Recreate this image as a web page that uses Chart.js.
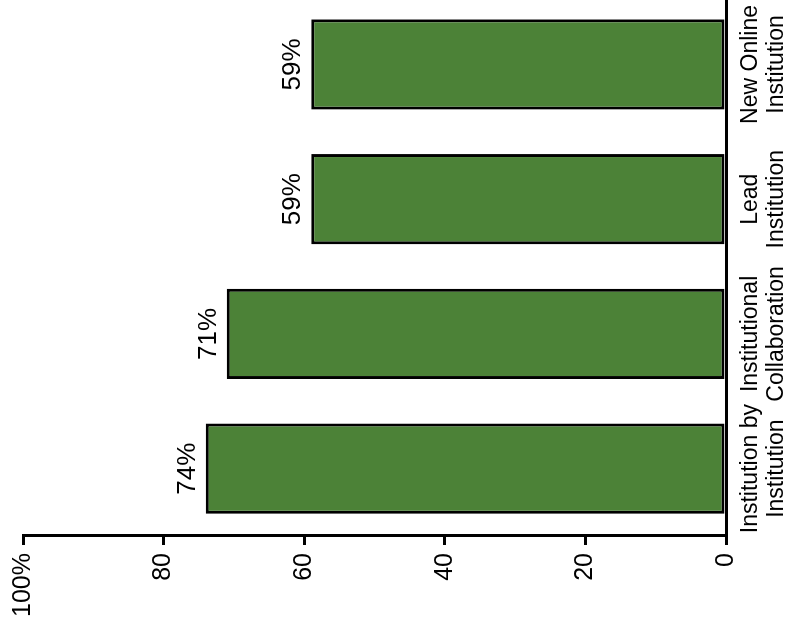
<!DOCTYPE html>
<html lang="en">
<head>
<meta charset="UTF-8">
<title>Institution types</title>
<script src="https://cdn.jsdelivr.net/npm/chart.js"></script>
<style>
  html, body { margin:0; padding:0; background:#fff; overflow:hidden; width:785px; height:626px; }
  /* chart is drawn upright, then the whole box is turned a quarter turn */
  #wrap { position:absolute; left:0; top:0; width:633px; height:785px;
          transform-origin:0 0; transform:translate(0,626px) rotate(-90deg); }
</style>
</head>
<body>
<div id="wrap"><canvas id="chart"></canvas></div>
<script>
const categories = [
  ['Institution by', 'Institution'],
  ['Institutional', 'Collaboration'],
  ['Lead', 'Institution'],
  ['New Online', 'Institution']
];
const values = [74, 71, 59, 59];
const valueLabels = ['74%', '71%', '59%', '59%'];
const tickLabels = ['0', '20', '40', '60', '80', '100%'];

Chart.defaults.font.family = "'Liberation Sans', Arial, sans-serif";
Chart.defaults.color = '#000';

const barLabels = {
  id: 'barLabels',
  afterDatasetsDraw(chart) {
    const ctx = chart.ctx;
    const meta = chart.getDatasetMeta(0);
    ctx.save();
    ctx.font = "26px 'Liberation Sans', Arial, sans-serif";
    ctx.fillStyle = '#000';
    ctx.textAlign = 'center';
    ctx.textBaseline = 'alphabetic';
    meta.data.forEach((bar, i) => {
      ctx.fillText(valueLabels[i], bar.x, bar.y - 11);
    });
    ctx.restore();
  }
};

new Chart(document.getElementById('chart'), {
  type: 'bar',
  data: {
    labels: categories,
    datasets: [{
      data: values,
      backgroundColor: '#4C8237',
      borderColor: '#000',
      borderWidth: 3,
      borderSkipped: false,
      categoryPercentage: 1,
      barPercentage: 0.67
    }]
  },
  options: {
    responsive: true,
    maintainAspectRatio: false,
    animation: false,
    layout: { padding: { top: 21, right: 0, bottom: 0, left: 0 } },
    plugins: { legend: { display: false }, tooltip: { enabled: false } },
    scales: {
      x: {
        grid: { display: true, drawOnChartArea: false, drawTicks: false },
        border: { display: true, color: '#000', width: 3 },
        ticks: { padding: 12, maxRotation: 0, minRotation: 0, autoSkip: false,
                 font: { size: 23, lineHeight: 1.13 } },
        afterFit: s => { s.height = 59; }
      },
      y: {
        min: 0, max: 100,
        grid: { display: true, drawOnChartArea: false, drawTicks: true,
                tickLength: 9, color: '#000', lineWidth: 3 },
        border: { display: true, color: '#000', width: 3 },
        ticks: { stepSize: 20, padding: 8, font: { size: 25 },
                 callback: (v, i) => tickLabels[i] },
        afterFit: s => { s.width = 90; }
      }
    }
  },
  plugins: [barLabels]
});
</script>
</body>
</html>
